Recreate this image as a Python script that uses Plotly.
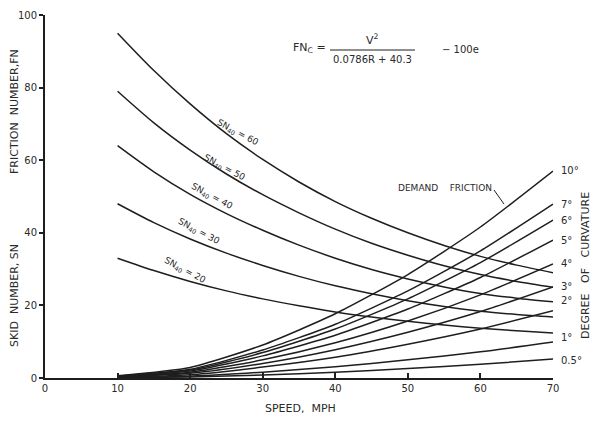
import plotly.graph_objects as go

speed_sn = [10, 15, 20, 25, 30, 35, 40, 45, 50, 55, 60, 65, 70]
speed = [10, 20, 30, 40, 50, 60, 70]

# Skid number curves (friction number vs speed), labelled by SN40
sn_labels = ["60", "50", "40", "30", "20"]
sn60 = [95, 84.7, 75.5, 67.3, 60.2, 54, 48.6, 44, 40, 36.5, 33.5, 31.1, 29]
sn50 = [79, 70.3, 62.8, 56.2, 50.5, 45.5, 41, 37.1, 33.8, 30.9, 28.5, 26.6, 25]
sn40 = [64, 56.8, 50.6, 45.3, 40.7, 36.6, 33, 29.9, 27.3, 25.1, 23.3, 22, 21]
sn30 = [48, 42.8, 38.3, 34.4, 31, 28, 25.4, 23.2, 21.3, 19.7, 18.4, 17.5, 16.8]
sn20 = [33, 29.6, 26.6, 24, 21.8, 19.9, 18.2, 16.8, 15.6, 14.6, 13.7, 13, 12.4]
sn_series = [sn60, sn50, sn40, sn30, sn20]
sn_label_pos = [(26.2, 66.5), (24.4, 57), (22.7, 48.8), (20.9, 39.2), (19.0, 28.4)]

# Demand friction curves by degree of curvature
deg_labels = ["10°", "7°", "6°", "5°", "4°", "3°", "2°", "1°", "0.5°"]
d10 = [0.6, 2.9, 9.1, 17.7, 28.5, 41.6, 57]
d7 = [0.5, 2.4, 7.7, 14.8, 24, 35, 47.9]
d6 = [0.4, 2.2, 7.0, 13.5, 21.8, 31.8, 43.5]
d5 = [0.4, 1.9, 6.1, 11.8, 19, 27.7, 38]
d4 = [0.3, 1.6, 5.0, 9.7, 15.7, 22.9, 31.4]
d3 = [0.3, 1.3, 4.0, 7.8, 12.6, 18.3, 25.1]
d2 = [0.2, 0.9, 3.0, 5.7, 9.3, 13.5, 18.5]
d1 = [0.1, 0.5, 1.6, 3.1, 5.0, 7.2, 9.9]
d05 = [0.05, 0.3, 0.8, 1.6, 2.6, 3.8, 5.2]
deg_series = [d10, d7, d6, d5, d4, d3, d2, d1, d05]
deg_label_shift = [1, 0, 0, 0, 1, 0, 10, 5, -1]

x_ticks = [0, 10, 20, 30, 40, 50, 60, 70]
y_ticks = [0, 20, 40, 60, 80, 100]

INK = "#1e1e1e"
TXT = "#2a2a2a"
FONT = "DejaVu Sans"

# plot area in pixels
L, R, T, B = 45, 553, 15, 378


def px(xp):
    return (xp - L) / (R - L)


def py(yp):
    return (B - yp) / (B - T)


fig = go.Figure()
for ys in sn_series:
    fig.add_trace(go.Scatter(x=speed_sn, y=ys, mode="lines",
                             line=dict(color=INK, width=1.5, shape="spline", smoothing=0.8),
                             hoverinfo="skip", showlegend=False, cliponaxis=False))
for ys in deg_series:
    fig.add_trace(go.Scatter(x=speed, y=ys, mode="lines",
                             line=dict(color=INK, width=1.5, shape="spline", smoothing=0.6),
                             hoverinfo="skip", showlegend=False, cliponaxis=False))

ann = []
for lab, (lx, ly) in zip(sn_labels, sn_label_pos):
    ann.append(dict(x=lx, y=ly, xref="x", yref="y", text=f"SN<sub>40</sub> = {lab}", showarrow=False,
                    xanchor="center", yanchor="middle", yshift=4, xshift=2,
                    textangle=28, font=dict(family=FONT, size=9, color=TXT)))
for lab, ys, sh in zip(deg_labels, deg_series, deg_label_shift):
    ann.append(dict(x=70, y=ys[-1], xref="x", yref="y", text=lab, showarrow=False, xanchor="left",
                    yanchor="middle", xshift=6, yshift=sh, font=dict(family=FONT, size=10, color=TXT)))


def pann(x, y, text, size=11, angle=0, xanchor="center"):
    return dict(x=px(x), y=py(y), xref="paper", yref="paper", text=text, textangle=angle,
                showarrow=False, xanchor=xanchor, yanchor="middle",
                font=dict(family=FONT, size=size, color=TXT))


ann += [
    pann(14, 112, "FRICTION  NUMBER,FN", angle=-90),
    pann(14, 296, "SKID  NUMBER, SN", angle=-90),
    pann(585, 266, "DEGREE   OF   CURVATURE", angle=-90),
    pann(300, 408, "SPEED,  MPH"),
    pann(328, 48, "FN<sub>C</sub> =", xanchor="right"),
    pann(372, 39, "V<sup>2</sup>"),
    pann(372, 59, "0.0786R + 40.3", size=10),
    pann(440, 50, "− 100e", size=10, xanchor="left"),
    pann(494, 188, "DEMAND    FRICTION", size=9, xanchor="right"),
]

shapes = [
    dict(type="line", xref="paper", yref="paper", x0=px(330), x1=px(415), y0=py(50), y1=py(50),
         line=dict(color=INK, width=1)),
    dict(type="line", xref="paper", yref="paper", x0=px(494), x1=px(504), y0=py(190), y1=py(204),
         line=dict(color=INK, width=1)),
]

fig.update_layout(
    width=596, height=422,
    margin=dict(l=L, r=596 - R, t=T, b=422 - B, autoexpand=False),
    paper_bgcolor="white", plot_bgcolor="white",
    annotations=ann, shapes=shapes,
    xaxis=dict(range=[0, 70], tickvals=x_ticks, showgrid=False, zeroline=False, showline=True,
               linecolor=INK, linewidth=2, ticks="inside", ticklen=5, tickcolor=INK, tickwidth=1.5,
               tickfont=dict(family=FONT, size=10, color=TXT), automargin=False),
    yaxis=dict(range=[0, 100], tickvals=y_ticks, showgrid=False, zeroline=False, showline=True,
               linecolor=INK, linewidth=2, ticks="outside", ticklen=4, tickcolor=INK, tickwidth=1.5,
               tickfont=dict(family=FONT, size=10, color=TXT), automargin=False),
)

fig.write_html("out.html", config={"displayModeBar": False},
               post_script="document.body.style.margin='0';")
